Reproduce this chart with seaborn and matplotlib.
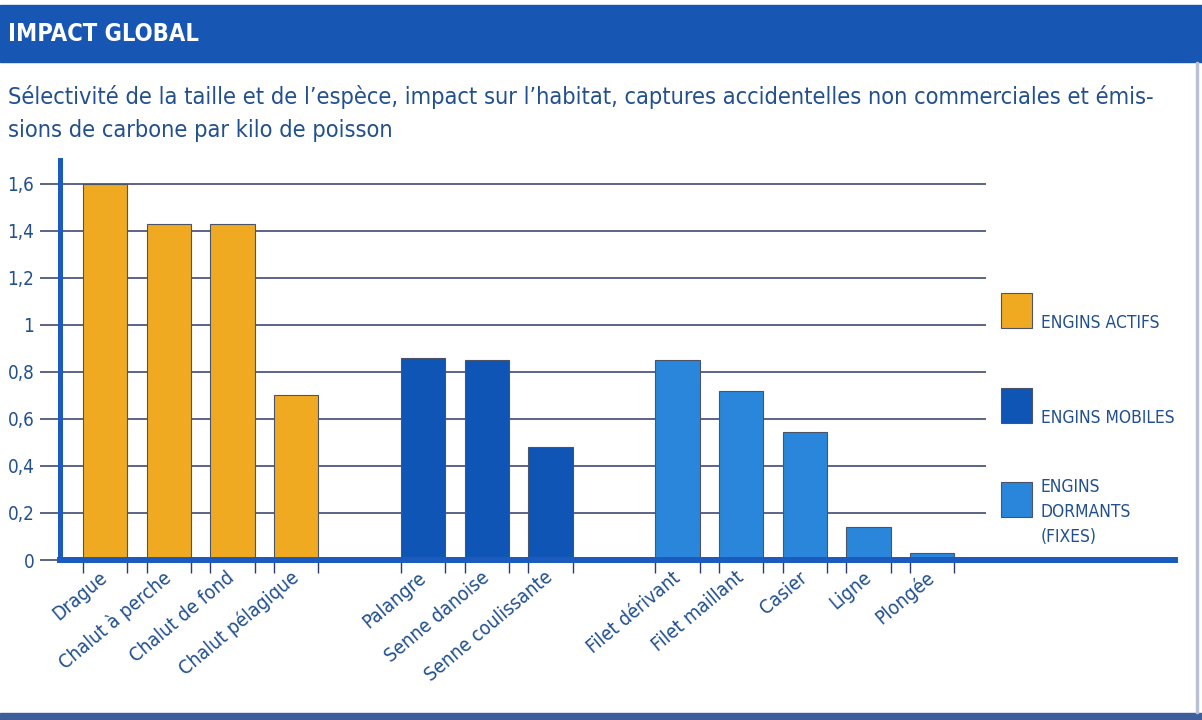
import numpy as np
import pandas as pd
import matplotlib.pyplot as plt
import seaborn as sns
from matplotlib.patches import Rectangle

# data
gears = ["Drague", "Chalut à perche", "Chalut de fond", "Chalut pélagique",
         "Palangre", "Senne danoise", "Senne coulissante",
         "Filet dérivant", "Filet maillant", "Casier", "Ligne", "Plongée"]
groups = ["ENGINS ACTIFS"] * 4 + ["ENGINS MOBILES"] * 3 + ["ENGINS DORMANTS (FIXES)"] * 5
impact = [1.60, 1.43, 1.43, 0.70,
          0.86, 0.85, 0.48,
          0.85, 0.72, 0.545, 0.14, 0.03]
group_names = ["ENGINS ACTIFS", "ENGINS MOBILES", "ENGINS DORMANTS (FIXES)"]
legend_labels = ["ENGINS ACTIFS", "ENGINS MOBILES", "ENGINS\nDORMANTS\n(FIXES)"]
group_colors = ["#F0AA22", "#0E55B6", "#2A86DB"]
y_ticks = [0, 0.2, 0.4, 0.6, 0.8, 1.0, 1.2, 1.4, 1.6]

title = "IMPACT GLOBAL"
subtitle = ["Sélectivité de la taille et de l’espèce, impact sur l’habitat, captures accidentelles non commerciales et émis-",
            "sions de carbone par kilo de poisson"]

# one empty slot between the groups
pos = []
slot = 0
prev = None
for g in groups:
    if prev is not None and g != prev:
        slot += 1
    pos.append(slot)
    slot += 1
    prev = g

df = pd.DataFrame({"gear": gears, "group": groups, "impact": impact, "pos": pos})

sns.set_style("white")
plt.rcParams["font.family"] = ["DejaVu Sans"]
plt.rcParams["font.stretch"] = "condensed"

W, H = 1202, 720
HEADER = "#1856B4"
AXIS_BLUE = "#1A5BBD"
NAVY = "#2F3B66"
TEXT = "#22508F"

fig = plt.figure(figsize=(W / 100, H / 100), dpi=100)
ax = fig.add_axes([60 / W, 1 - 560 / H, 1115 / W, 400 / H])

sns.barplot(data=df, x="pos", y="impact", hue="group",
            palette=dict(zip(group_names, group_colors)), saturation=1,
            native_scale=True, dodge=False, width=0.7, errorbar=None,
            edgecolor="#4a5368", linewidth=0.8, legend=False, ax=ax, zorder=2)

ax.set_xlim(pos[0] - 0.71, pos[-1] + 3.82)
ax.set_ylim(0, 1.70)

# gridlines stop before the legend
ax.hlines(y_ticks[1:], ax.get_xlim()[0], pos[-1] + 0.85, color=NAVY, lw=1.1, zorder=1)

ax.set_yticks(y_ticks)
ax.set_yticklabels([f"{round(v, 1):g}".replace(".", ",") for v in y_ticks])
ax.tick_params(axis="y", length=14.5, width=1.1, color=NAVY, pad=4,
               labelsize=13.5, labelcolor=TEXT, left=True)

ax.set_xticks(pos)
ax.set_xticklabels(gears, rotation=40, ha="right", va="center", rotation_mode="anchor")
ax.tick_params(axis="x", which="major", length=0, pad=11, labelsize=14, labelcolor=TEXT)
edges = sorted([p - 0.35 for p in pos] + [p + 0.35 for p in pos])
ax.set_xticks(edges, minor=True)
ax.tick_params(axis="x", which="minor", length=9, width=1, color=NAVY, direction="out", bottom=True)

ax.set_xlabel("")
ax.set_ylabel("")
for s in ["top", "right"]:
    ax.spines[s].set_visible(False)
ax.spines["left"].set_color(AXIS_BLUE)
ax.spines["left"].set_linewidth(3.6)
ax.spines["bottom"].set_color(AXIS_BLUE)
ax.spines["bottom"].set_linewidth(4.3)

# header band and texts
fig.add_artist(Rectangle((0, 1 - 62 / H), 1, 57 / H, transform=fig.transFigure,
                         color=HEADER, zorder=0))
fig.text(8 / W, 1 - 34 / H, title, color="white", fontsize=17, fontweight="bold", va="center")
fig.text(8 / W, 1 - 104 / H, subtitle[0], color=TEXT, fontsize=16.9, va="baseline")
fig.text(8 / W, 1 - 137 / H, subtitle[1], color=TEXT, fontsize=16.9, va="baseline")

# frame
fig.add_artist(Rectangle((0, 0), 1, 7 / H, transform=fig.transFigure, color="#3D5E9A", zorder=0))
fig.add_artist(Rectangle((1196 / W, 7 / H), 1.5 / W, (713 - 62) / H, transform=fig.transFigure,
                         color="#B8C2D2", zorder=0))

# legend squares
sq_bottoms = [328, 423, 517]
for color, label, yb in zip(group_colors, legend_labels, sq_bottoms):
    fig.add_artist(Rectangle((1001 / W, 1 - yb / H), 31 / W, 35 / H, transform=fig.transFigure,
                             facecolor=color, edgecolor="#4a5368", lw=0.8))
    lines = label.split("\n")
    base = yb - 25 * (len(lines) - 2) if len(lines) > 1 else yb
    for i, line in enumerate(lines):
        fig.text(1041 / W, 1 - (base + 25 * i) / H, line, color=TEXT, fontsize=12.5, va="baseline")

fig.savefig("out.png", dpi=100, facecolor="white")
